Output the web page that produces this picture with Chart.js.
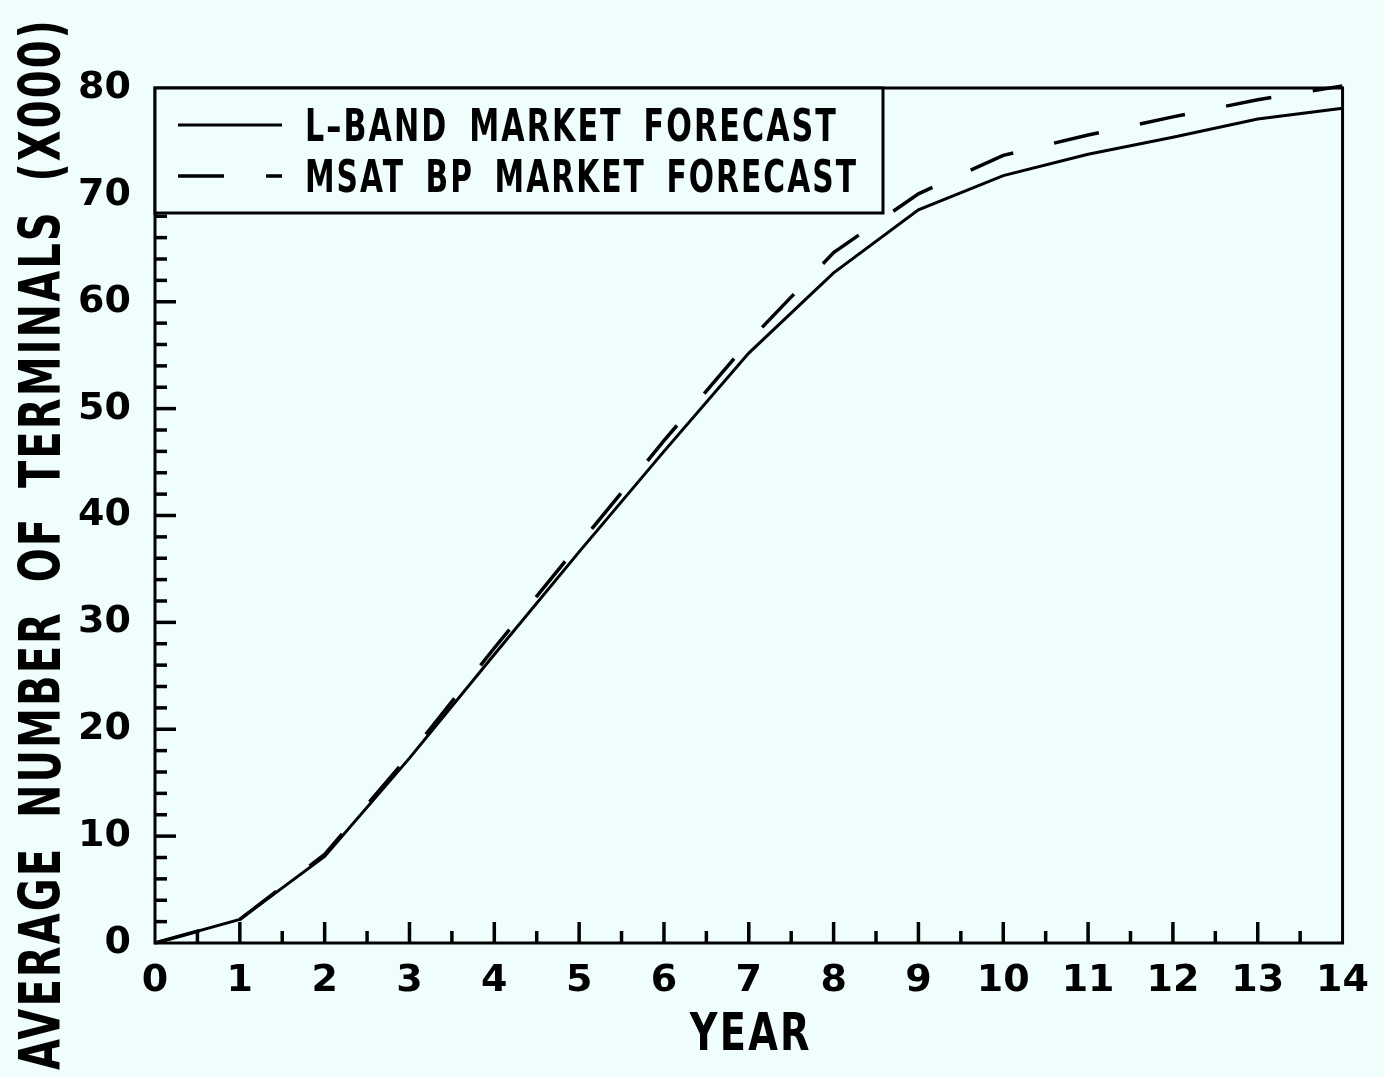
<!DOCTYPE html>
<html>
<head>
<meta charset="utf-8">
<title>Average number of terminals</title>
<script src="https://cdn.jsdelivr.net/npm/chart.js@4.4.0/dist/chart.umd.min.js"></script>
<style>
  html, body { margin: 0; padding: 0; background: #effefd; }
  #wrap { width: 1384px; height: 1077px; position: relative; }
</style>
</head>
<body>
<div id="wrap"><canvas id="chart"></canvas></div>
<script>
// Forecast values, thousands of terminals per year
const years   = [0, 1, 2, 3, 4, 5, 6, 7, 8, 9, 10, 11, 12, 13, 14];
const lBand   = [0, 2.2, 8.1, 17.3, 27.0, 36.6, 46.0, 55.2, 62.7, 68.6, 71.8, 73.8, 75.4, 77.1, 78.1];
const msatBp  = [0, 2.2, 8.3, 17.6, 27.6, 37.3, 47.0, 56.3, 64.6, 70.1, 73.7, 75.6, 77.3, 78.9, 80.2];

const seriesNames = ['L\u2013BAND MARKET FORECAST', 'MSAT BP MARKET FORECAST'];
const xTitle = 'YEAR';
const yTitle = 'AVERAGE NUMBER OF TERMINALS (X000)';

// Axis ranges and tick steps
const xRange = [0, 14];
const yRange = [0, 80];
const xMajorStep = 1, xMinorStep = 0.5;
const yMajorStep = 10, yMinorStep = 2;

const FONT = '"DejaVu Sans", sans-serif';
const BG = '#effefd';
const INK = '#000000';

function toPoints(xs, ys) { return xs.map((x, i) => ({ x: x, y: ys[i] })); }

// Draws spaced-out text squeezed into a given width
function spacedText(ctx, text, x, y, width, letter, word) {
  ctx.letterSpacing = letter + 'px';
  ctx.wordSpacing = word + 'px';
  ctx.fillText(text, x, y, width);
  ctx.letterSpacing = '0px';
  ctx.wordSpacing = '0px';
}

// Page background
const backgroundPlugin = {
  id: 'paper',
  beforeDraw(chart) {
    const ctx = chart.ctx;
    ctx.save();
    ctx.fillStyle = BG;
    ctx.fillRect(0, 0, chart.width, chart.height);
    ctx.restore();
  }
};

// Plot frame plus inward-pointing major / minor ticks
const framePlugin = {
  id: 'frameTicks',
  afterDatasetsDraw(chart) {
    const { ctx, chartArea: a, scales: { x, y } } = chart;
    ctx.save();
    ctx.strokeStyle = INK;
    ctx.lineCap = 'butt';
    ctx.lineWidth = 3.5;
    for (let v = xRange[0] + xMinorStep; v < xRange[1] - 1e-9; v += xMinorStep) {
      const major = Math.abs(v - Math.round(v / xMajorStep) * xMajorStep) < 1e-9;
      const px = x.getPixelForValue(v);
      ctx.beginPath();
      ctx.moveTo(px, a.bottom);
      ctx.lineTo(px, a.bottom - (major ? 21 : 12));
      ctx.stroke();
    }
    for (let v = yRange[0] + yMinorStep; v < yRange[1] - 1e-9; v += yMinorStep) {
      const major = Math.abs(v - Math.round(v / yMajorStep) * yMajorStep) < 1e-9;
      const py = y.getPixelForValue(v);
      ctx.beginPath();
      ctx.moveTo(a.left, py);
      ctx.lineTo(a.left + (major ? 21 : 12), py);
      ctx.stroke();
    }
    ctx.lineWidth = 3;
    ctx.lineJoin = 'miter';
    ctx.strokeRect(a.left, a.top, a.right - a.left, a.bottom - a.top);
    ctx.restore();
  }
};

// Boxed legend in the upper-left corner of the plot
const boxLegendPlugin = {
  id: 'boxLegend',
  afterDraw(chart) {
    const { ctx, chartArea: a } = chart;
    const boxRight = 883, boxBottom = 213;
    ctx.save();
    ctx.fillStyle = BG;
    ctx.fillRect(a.left, a.top, boxRight - a.left, boxBottom - a.top);
    ctx.strokeStyle = INK;
    ctx.lineWidth = 3;
    ctx.strokeRect(a.left, a.top, boxRight - a.left, boxBottom - a.top);
    const rows = [125, 176];
    const textWidths = [533, 553];
    chart.data.datasets.forEach((ds, i) => {
      const yy = rows[i];
      ctx.beginPath();
      ctx.setLineDash(ds.borderDash || []);
      ctx.lineDashOffset = 0;
      ctx.lineWidth = ds.borderWidth;
      ctx.strokeStyle = ds.borderColor;
      ctx.moveTo(178, yy);
      ctx.lineTo(282, yy);
      ctx.stroke();
      ctx.setLineDash([]);
      ctx.fillStyle = INK;
      ctx.font = 'bold 44px ' + FONT;
      ctx.textAlign = 'left';
      ctx.textBaseline = 'alphabetic';
      spacedText(ctx, ds.label, 305, yy + 16, textWidths[i], 3, 12);
    });
    ctx.restore();
  }
};

// Axis titles
const titlesPlugin = {
  id: 'axisTitles',
  afterDraw(chart) {
    const { ctx, chartArea: a } = chart;
    ctx.save();
    ctx.fillStyle = INK;
    ctx.textAlign = 'center';
    ctx.textBaseline = 'alphabetic';
    ctx.font = 'bold 51px ' + FONT;
    spacedText(ctx, xTitle, (a.left + a.right) / 2 + 2, 1050, 122, 3, 0);
    ctx.translate(60, 544);
    ctx.rotate(-Math.PI / 2);
    ctx.font = 'bold 57px ' + FONT;
    spacedText(ctx, yTitle, 0, 0, 1052, 3, 18);
    ctx.restore();
  }
};

new Chart(document.getElementById('chart'), {
  type: 'line',
  data: {
    datasets: [
      {
        label: seriesNames[0],
        data: toPoints(years, lBand),
        borderColor: INK,
        borderWidth: 3,
        pointRadius: 0,
        tension: 0,
        fill: false
      },
      {
        label: seriesNames[1],
        data: toPoints(years, msatBp),
        borderColor: INK,
        borderWidth: 3.5,
        borderDash: [46, 42],
        pointRadius: 0,
        tension: 0,
        fill: false,
        clip: { left: 5, top: 4, right: 0, bottom: 5 }
      }
    ]
  },
  options: {
    responsive: true,
    maintainAspectRatio: false,
    animation: false,
    devicePixelRatio: 1,
    layout: { padding: { top: 88, right: 41, left: 0, bottom: 0 } },
    plugins: {
      legend: { display: false },
      tooltip: { enabled: false }
    },
    scales: {
      x: {
        type: 'linear',
        min: xRange[0],
        max: xRange[1],
        grid: { display: false, drawTicks: false },
        border: { display: false },
        ticks: {
          stepSize: xMajorStep,
          color: INK,
          padding: 15,
          maxRotation: 0,
          autoSkip: false,
          font: { family: FONT, size: 38, weight: 'bold' }
        },
        afterFit(scale) { scale.height = 134; }
      },
      y: {
        type: 'linear',
        min: yRange[0],
        max: yRange[1],
        grid: { display: false, drawTicks: false },
        border: { display: false },
        ticks: {
          stepSize: yMajorStep,
          color: INK,
          padding: 24,
          font: { family: FONT, size: 38, weight: 'bold' }
        },
        afterFit(scale) { scale.width = 155; }
      }
    }
  },
  plugins: [backgroundPlugin, framePlugin, boxLegendPlugin, titlesPlugin]
});
</script>
</body>
</html>
